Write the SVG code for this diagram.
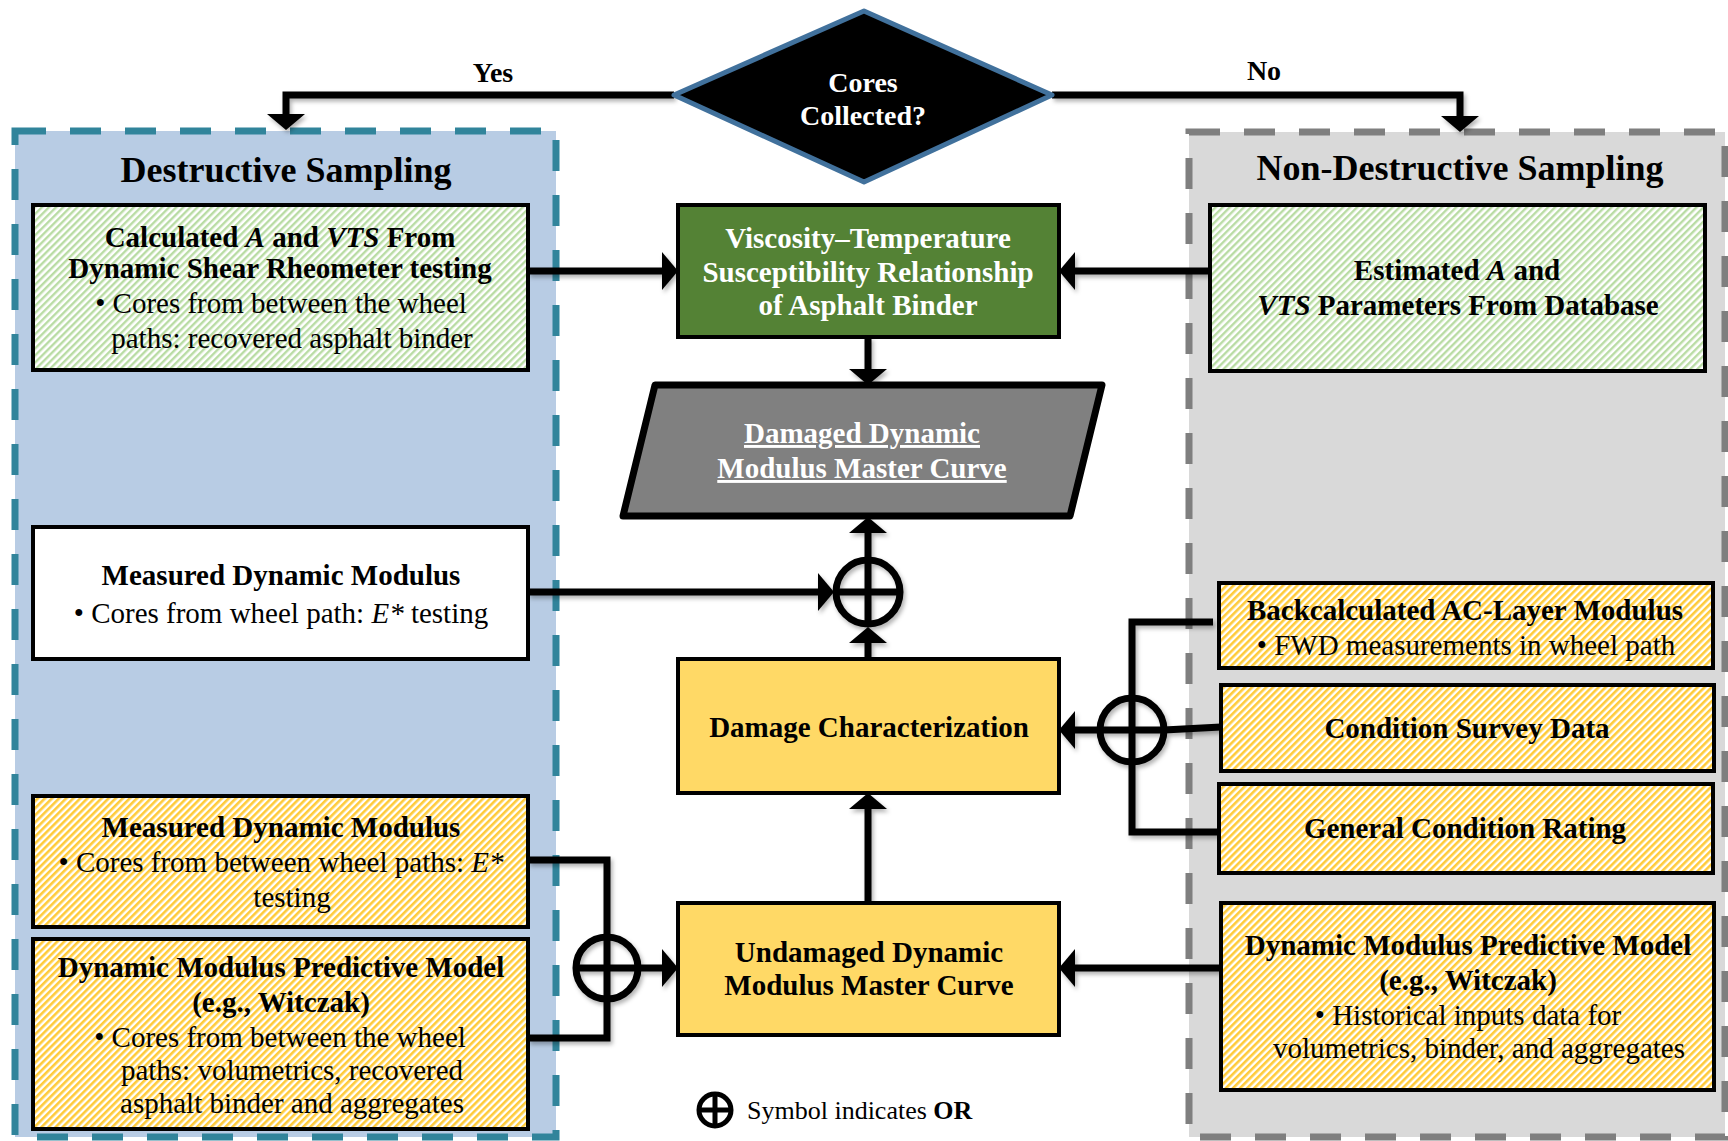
<svg xmlns="http://www.w3.org/2000/svg" width="1728" height="1141" viewBox="0 0 1728 1141">
<defs>
<style>
.t{font-family:"Liberation Serif","Times New Roman",serif;font-size:29px;fill:#000;text-anchor:middle}
.b{font-weight:bold}
.w{fill:#fff}
.i{font-style:italic}
.box{stroke:#000;stroke-width:4}
.hg{fill:url(#hatchG)}
.hy{fill:url(#hatchY)}
.conn{fill:none;stroke:#000;stroke-width:7;stroke-linejoin:miter}
.arr{marker-end:url(#ah)}
.or{fill:none;stroke:#000;stroke-width:7}
</style>
<pattern id="hatchG" patternUnits="userSpaceOnUse" width="5" height="5" patternTransform="rotate(45)">
<rect width="5" height="5" fill="#fff"/>
<rect width="2.4" height="5" fill="#b9dca4"/>
</pattern>
<pattern id="hatchY" patternUnits="userSpaceOnUse" width="5" height="5" patternTransform="rotate(45)">
<rect width="5" height="5" fill="#fff"/>
<rect width="2.6" height="5" fill="#ffcb3a"/>
</pattern>
<marker id="ah" viewBox="0 0 16 38" refX="8" refY="19" markerWidth="16" markerHeight="38" markerUnits="userSpaceOnUse" orient="auto">
<path d="M0,0 L16,19 L0,38 Z" fill="#000"/>
</marker>
<filter id="sh" x="-5%" y="-5%" width="110%" height="110%">
<feDropShadow dx="2" dy="3" stdDeviation="2" flood-color="#000" flood-opacity="0.3"/>
</filter>
</defs>

<rect width="1728" height="1141" fill="#fff"/>

<g id="destructive-sampling">
<rect x="15" y="131" width="541" height="1006" fill="#b8cce4" stroke="#31849b" stroke-width="7" stroke-dasharray="31 24"/>
<text class="t b" x="286" y="182" style="font-size:36px">Destructive Sampling</text>
</g>

<g id="non-destructive-sampling">
<rect x="1189" y="132" width="536" height="1005" fill="#d9d9d9" stroke="#7f7f7f" stroke-width="7" stroke-dasharray="31 24"/>
<text class="t b" x="1460" y="180" style="font-size:36px">Non-Destructive Sampling</text>
</g>

<g id="connectors" filter="url(#sh)">
<path class="conn arr" d="M674,95 H286 V122"/>
<path class="conn arr" d="M1052,95 H1460 V124"/>
<path class="conn arr" d="M528,271 H670"/>
<path class="conn arr" d="M1210,271 H1067"/>
<path class="conn arr" d="M868,337 V377"/>
<path class="conn arr" d="M528,592 H826"/>
<path class="conn arr" d="M868,560 V525"/>
<path class="conn arr" d="M868,659 V635"/>
<path class="conn arr" d="M868,903 V801"/>
<path class="conn" d="M528,860 H607 V1038 H528"/>
<path class="conn arr" d="M638,968 H670"/>
<path class="conn" d="M1213,622 H1132 V832 H1219"/>
<path class="conn" d="M1221,727 L1164,730"/>
<path class="conn arr" d="M1100,730 H1067"/>
<path class="conn arr" d="M1221,968 H1067"/>
<g id="or-junction-1">
<circle class="or" cx="868" cy="592" r="32"/>
<path class="conn" d="M836,592 H900 M868,560 V624"/>
</g>
<g id="or-junction-2">
<circle class="or" cx="607" cy="968" r="31"/>
<path class="conn" d="M576,968 H638"/>
</g>
<g id="or-junction-3">
<circle class="or" cx="1132" cy="730" r="32"/>
<path class="conn" d="M1100,730 H1164"/>
</g>
</g>

<g id="cores-collected">
<polygon points="674,95 864,11 1052,95 864,182" fill="#000" stroke="#41719c" stroke-width="5" stroke-linejoin="round"/>
<text class="t b w" x="863" y="92" style="font-size:28px">Cores</text>
<text class="t b w" x="863" y="125" style="font-size:28px">Collected?</text>
</g>
<g id="label-yes"><text class="t b" x="493" y="82" style="font-size:28px">Yes</text></g>
<g id="label-no"><text class="t b" x="1264" y="80" style="font-size:28px">No</text></g>

<g id="calculated-a-vts">
<rect class="box hg" x="33" y="205" width="495" height="165"/>
<text class="t b" x="280" y="247">Calculated <tspan class="i">A</tspan> and <tspan class="i">VTS</tspan> From</text>
<text class="t b" x="280" y="278">Dynamic Shear Rheometer testing</text>
<text class="t" x="281" y="313">• Cores from between the wheel</text>
<text class="t" x="292" y="348">paths: recovered asphalt binder</text>
</g>

<g id="viscosity-temperature">
<rect class="box" x="678" y="205" width="381" height="132" fill="#548235"/>
<text class="t b w" x="868" y="248">Viscosity–Temperature</text>
<text class="t b w" x="868" y="282">Susceptibility Relationship</text>
<text class="t b w" x="868" y="315">of Asphalt Binder</text>
</g>

<g id="estimated-a-vts">
<rect class="box hg" x="1210" y="205" width="495" height="166"/>
<text class="t b" x="1457" y="280">Estimated <tspan class="i">A</tspan> and</text>
<text class="t b" x="1458" y="315"><tspan class="i">VTS</tspan> Parameters From Database</text>
</g>

<g id="damaged-master-curve">
<polygon points="655,385 1102,385 1070,516 623,516" fill="#808080" stroke="#000" stroke-width="7" stroke-linejoin="round"/>
<text class="t b w" x="862" y="443" text-decoration="underline">Damaged Dynamic</text>
<text class="t b w" x="862" y="478" text-decoration="underline">Modulus Master Curve</text>
</g>

<g id="measured-wheel-path">
<rect class="box" x="33" y="527" width="495" height="132" fill="#fff"/>
<text class="t b" x="281" y="585">Measured Dynamic Modulus</text>
<text class="t" x="281" y="623">• Cores from wheel path: <tspan class="i">E*</tspan> testing</text>
</g>

<g id="damage-characterization">
<rect class="box" x="678" y="659" width="381" height="134" fill="#ffd966"/>
<text class="t b" x="869" y="737">Damage Characterization</text>
</g>

<g id="measured-between-wheel-paths">
<rect class="box hy" x="33" y="796" width="495" height="131"/>
<text class="t b" x="281" y="837">Measured Dynamic Modulus</text>
<text class="t" x="281" y="872">• Cores from between wheel paths: <tspan class="i">E*</tspan></text>
<text class="t" x="292" y="907">testing</text>
</g>

<g id="predictive-model-destructive">
<rect class="box hy" x="33" y="939" width="495" height="190"/>
<text class="t b" x="281" y="977">Dynamic Modulus Predictive Model</text>
<text class="t b" x="281" y="1012">(e.g., Witczak)</text>
<text class="t" x="280" y="1047">• Cores from between the wheel</text>
<text class="t" x="292" y="1080">paths: volumetrics, recovered</text>
<text class="t" x="292" y="1113">asphalt binder and aggregates</text>
</g>

<g id="undamaged-master-curve">
<rect class="box" x="678" y="903" width="381" height="132" fill="#ffd966"/>
<text class="t b" x="869" y="962">Undamaged Dynamic</text>
<text class="t b" x="869" y="995">Modulus Master Curve</text>
</g>

<g id="backcalculated-modulus">
<rect class="box hy" x="1219" y="583" width="494" height="85"/>
<text class="t b" x="1465" y="620">Backcalculated AC-Layer Modulus</text>
<text class="t" x="1466" y="655">• FWD measurements in wheel path</text>
</g>

<g id="condition-survey">
<rect class="box hy" x="1221" y="685" width="493" height="86"/>
<text class="t b" x="1467" y="738">Condition Survey Data</text>
</g>

<g id="general-condition-rating">
<rect class="box hy" x="1219" y="784" width="494" height="89"/>
<text class="t b" x="1465" y="838">General Condition Rating</text>
</g>

<g id="predictive-model-nondestructive">
<rect class="box hy" x="1221" y="903" width="493" height="187"/>
<text class="t b" x="1468" y="955">Dynamic Modulus Predictive Model</text>
<text class="t b" x="1468" y="990">(e.g., Witczak)</text>
<text class="t" x="1468" y="1025">• Historical inputs data for</text>
<text class="t" x="1479" y="1058">volumetrics, binder, and aggregates</text>
</g>

<g id="legend">
<circle cx="715" cy="1110" r="16" fill="none" stroke="#000" stroke-width="5"/>
<path d="M699,1110 H731 M715,1094 V1126" stroke="#000" stroke-width="5"/>
<text class="t" x="747" y="1119" style="font-size:26px;text-anchor:start">Symbol indicates <tspan class="b">OR</tspan></text>
</g>
</svg>
